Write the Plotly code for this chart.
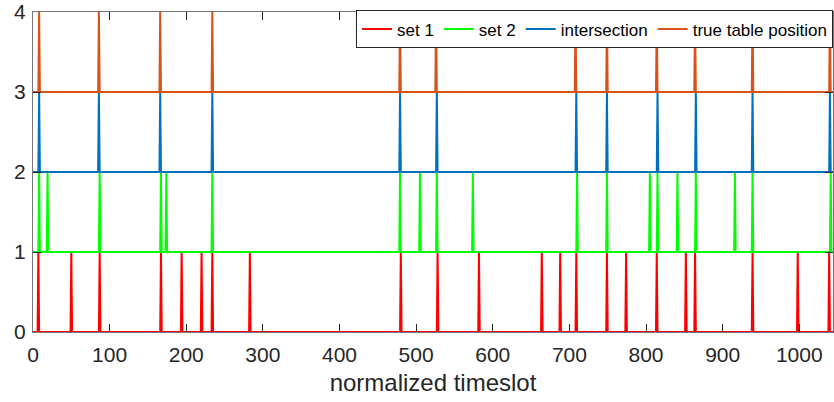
import numpy as np
import plotly.graph_objects as go

# ---- data ----
n_slots = 1045
timeslots = np.arange(n_slots)

set1_spikes = [7, 50, 87, 167, 194, 220, 234, 283, 480, 528, 582, 664, 688,
               709, 749, 774, 814, 852, 864, 939, 998, 1039]
set2_spikes = [8, 19, 87, 167, 174, 234, 479, 505, 527, 574, 710, 749, 805,
               815, 841, 865, 916, 939, 1041]
intersection_spikes = [8, 86, 166, 234, 479, 527, 709, 749, 815, 865, 939, 1040]
true_spikes = [8, 86, 166, 234, 479, 526, 708, 749, 814, 864, 939, 1040]

series_names = ["set 1", "set 2", "intersection", "true table position"]
series_spikes = [set1_spikes, set2_spikes, intersection_spikes, true_spikes]
series_offsets = [0, 1, 2, 3]
series_colors = ["#FF0000", "#00FF00", "#0072BD", "#D95319"]

x_ticks = list(range(0, 1001, 100))
y_ticks = [0, 1, 2, 3, 4]

FONT = "Liberation Sans, Arial, Helvetica, sans-serif"
AXC = "#262626"

fig = go.Figure()
for name, spikes, off, col in zip(series_names, series_spikes, series_offsets, series_colors):
    y = np.full(n_slots, float(off))
    y[np.array(spikes)] += 1.0
    fig.add_trace(go.Scatter(x=timeslots, y=y, mode="lines", name=name,
                             line=dict(color=col, width=2)))

fig.update_layout(
    width=834, height=402,
    margin=dict(l=33, r=1, t=12, b=70, autoexpand=False),
    paper_bgcolor="white", plot_bgcolor="white",
    font=dict(family=FONT, color=AXC),
    showlegend=True,
    legend=dict(orientation="h", x=1.0, xanchor="right", y=1.005, yanchor="top",
                bgcolor="white", bordercolor=AXC, borderwidth=1,
                font=dict(family=FONT, size=17, color="black"),
                itemwidth=30, tracegroupgap=0),
)
fig.update_xaxes(range=[0, 1044], tickvals=x_ticks, ticks="inside", ticklen=8,
                 tickcolor=AXC, tickwidth=1, mirror="ticks", showline=True,
                 linecolor="#777777", linewidth=1, showgrid=False, zeroline=False,
                 automargin=False, ticklabelstandoff=4, ticklabeloverflow="allow",
                 tickfont=dict(family=FONT, size=21, color=AXC),
                 title=dict(text="normalized timeslot", font=dict(family=FONT, size=24, color=AXC),
                            standoff=8))
fig.update_yaxes(range=[0, 4], tickvals=y_ticks, ticks="inside", ticklen=8,
                 tickcolor=AXC, tickwidth=1, mirror="ticks", showline=True,
                 linecolor="#777777", linewidth=1, showgrid=False, zeroline=False,
                 automargin=False, ticklabelstandoff=2, ticklabeloverflow="allow",
                 tickfont=dict(family=FONT, size=21, color=AXC))

fig.write_html("out.html", config={"displayModeBar": False},
               post_script="document.body.style.margin='0';document.body.style.overflow='hidden';")
